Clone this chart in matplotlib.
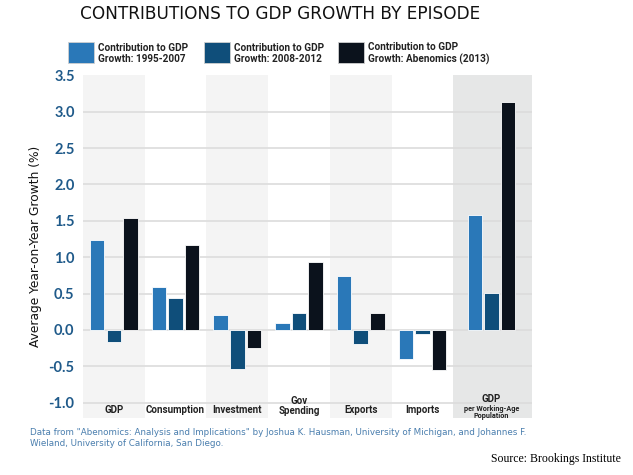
import matplotlib.pyplot as plt
import numpy as np

# data
categories = ["GDP", "Consumption", "Investment", "Gov\nSpending", "Exports", "Imports", "GDP"]
series_names = ["Contribution to GDP\nGrowth: 1995-2007",
                "Contribution to GDP\nGrowth: 2008-2012",
                "Contribution to GDP\nGrowth: Abenomics (2013)"]
growth_1995_2007 = [1.24, 0.59, 0.20, 0.09, 0.74, -0.40, 1.58]
growth_2008_2012 = [-0.17, 0.44, -0.54, 0.23, -0.19, -0.06, 0.51]
growth_abenomics = [1.54, 1.17, -0.25, 0.93, 0.23, -0.55, 3.13]
yticks = [-1.0, -0.5, 0.0, 0.5, 1.0, 1.5, 2.0, 2.5, 3.0, 3.5]

colors = ["#2a78b8", "#0f4e7a", "#0b121c"]
tick_blue = "#1f5a8a"

fig = plt.figure(figsize=(6.33, 4.75), dpi=100)
ax = fig.add_axes([0.131, 0.12, 0.709, 0.722])

x = np.array([0, 1, 2, 3, 4, 5, 6.12])
# background bands
bands = [(-0.5, 0.5, "#f4f4f4"), (1.5, 2.5, "#f4f4f4"), (3.5, 4.5, "#f4f4f4"),
         (5.5, 6.77, "#e6e7e7")]
for lo, hi, c in bands:
    ax.axvspan(lo, hi, color=c, zorder=0, lw=0)

for t in yticks[:-1]:
    ax.axhline(t, color="#dcdcdc", lw=1.2, zorder=1)

width = 0.235
offset = 0.268
for i, vals in enumerate([growth_1995_2007, growth_2008_2012, growth_abenomics]):
    ax.bar(x + (i - 1) * offset, vals, width, color=colors[i], edgecolor="white",
           lw=0.6, zorder=3)

ax.set_xlim(-0.5, 6.77)
ax.set_ylim(-1.21, 3.503)
ax.set_yticks(yticks)
ax.set_yticklabels([f"{t:.1f}" for t in yticks], color=tick_blue, fontsize=10.5,
                   fontweight="bold", family="Lato")
ax.tick_params(axis="y", length=0, pad=6)
ax.set_xticks([])
for s in ax.spines.values():
    s.set_visible(False)
ax.set_ylabel("Average Year-on-Year Growth (%)", fontsize=8.8, color="#111111", labelpad=5)

# category labels inside the bands
lab_kw = dict(ha="center", fontsize=7, fontweight="bold", color="#222222", family="Roboto")
for xi, lab in zip(x[:6], categories[:6]):
    if "\n" in lab:
        ax.text(xi, -1.185, lab, va="bottom", linespacing=1.05, **lab_kw)
    else:
        ax.text(xi, -1.10, lab, va="center", **lab_kw)
ax.text(x[6], -0.955, categories[6], va="center", **lab_kw)
ax.text(x[6], -1.13, "per Working-Age\nPopulation", ha="center", va="center",
        fontsize=5.2, fontweight="bold", color="#222222", family="Roboto", linespacing=0.85)

fig.text(80 / 633, 1 - 14 / 475, "CONTRIBUTIONS TO GDP GROWTH BY EPISODE", fontsize=12.2,
         color="#111111", va="center", ha="left")

# legend built by hand
leg_x = [68, 204, 338]
for i in range(3):
    fig.patches.append(plt.Rectangle((leg_x[i] / 633, 1 - 63 / 475), 26 / 633, 21 / 475,
                                     transform=fig.transFigure, color=colors[i],
                                     ec="#d0d0d0", lw=0.6))
    fig.text((leg_x[i] + 30) / 633, 1 - 53.5 / 475, series_names[i], fontsize=7.2,
             fontweight="bold", family="Roboto", color="#222222", va="center", ha="left",
             linespacing=1.15)

fig.text(30 / 633, 1 - 438 / 475,
         "Data from \"Abenomics: Analysis and Implications\" by Joshua K. Hausman, University of Michigan, and Johannes F.\nWieland, University of California, San Diego.",
         fontsize=6.35, color="#4a7eae", va="center", ha="left", linespacing=1.25)
fig.text(621 / 633, 1 - 459 / 475, "Source: Brookings Institute", fontsize=8.5,
         family="Liberation Serif", color="black", va="center", ha="right")

fig.savefig("out.png", dpi=100)
